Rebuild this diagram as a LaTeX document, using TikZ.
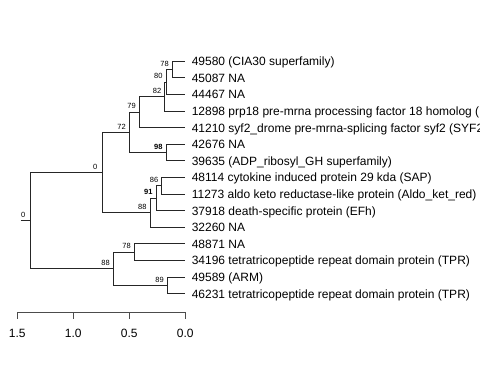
\documentclass[tikz,border=0pt]{standalone}
\usepackage{fontspec}
\setmainfont{Liberation Sans}
\begin{document}
\begin{tikzpicture}[x=1pt,y=-1pt,
  br/.style={draw=black!85,line width=0.9pt},
  leaf/.style={anchor=base west,inner sep=0pt,font=\fontsize{12}{14}\selectfont,xshift=6.3pt,yshift=-4.3pt},
  nl/.style={anchor=base east,inner sep=0pt,font=\fontsize{7.5}{9}\selectfont,xshift=-3.3pt,yshift=3.3pt},
  nlone/.style={nl,xshift=-1.8pt},
  ax/.style={draw=black!70,line width=0.9pt},
  axl/.style={anchor=base,inner sep=0pt,font=\fontsize{12}{14}\selectfont}]
\useasboundingbox (0,0) rectangle (480,384);
\clip (0,0) rectangle (480,384);
% leaf tips
\coordinate (L0) at (185.3,61.3);
\coordinate (L1) at (185.3,77.9);
\coordinate (L2) at (185.3,94.5);
\coordinate (L3) at (185.3,111.1);
\coordinate (L4) at (185.3,127.7);
\coordinate (L5) at (185.3,144.3);
\coordinate (L6) at (185.3,160.9);
\coordinate (L7) at (185.3,177.5);
\coordinate (L8) at (185.3,194.1);
\coordinate (L9) at (185.3,210.7);
\coordinate (L10) at (185.3,227.3);
\coordinate (L11) at (185.3,243.9);
\coordinate (L12) at (185.3,260.5);
\coordinate (L13) at (185.3,277.1);
\coordinate (L14) at (185.3,293.7);
% internal nodes
\coordinate (n78) at (172.3,69.6);
\coordinate (n80) at (166,82.05);
\coordinate (n82) at (164.7,96.6);
\coordinate (n79) at (139.3,112.15);
\coordinate (n98) at (166,152.6);
\coordinate (n72) at (129.3,132.4);
\coordinate (n86) at (161.7,185.8);
\coordinate (n91) at (156,198.25);
\coordinate (n88a) at (150,212.8);
\coordinate (n0) at (102.7,172.6);
\coordinate (n78b) at (134.3,252.2);
\coordinate (n89) at (167.3,285.4);
\coordinate (n88b) at (113.3,268.8);
\coordinate (root) at (30.7,220.7);
\coordinate (rootstub) at (20.7,220.7);
% branches
\draw[br] (n78) |- (L0);
\draw[br] (n78) |- (L1);
\draw[br] (n80) |- (n78);
\draw[br] (n80) |- (L2);
\draw[br] (n82) |- (n80);
\draw[br] (n82) |- (L3);
\draw[br] (n79) |- (n82);
\draw[br] (n79) |- (L4);
\draw[br] (n98) |- (L5);
\draw[br] (n98) |- (L6);
\draw[br] (n72) |- (n79);
\draw[br] (n72) |- (n98);
\draw[br] (n86) |- (L7);
\draw[br] (n86) |- (L8);
\draw[br] (n91) |- (n86);
\draw[br] (n91) |- (L9);
\draw[br] (n88a) |- (n91);
\draw[br] (n88a) |- (L10);
\draw[br] (n0) |- (n72);
\draw[br] (n0) |- (n88a);
\draw[br] (n78b) |- (L11);
\draw[br] (n78b) |- (L12);
\draw[br] (n89) |- (L13);
\draw[br] (n89) |- (L14);
\draw[br] (n88b) |- (n78b);
\draw[br] (n88b) |- (n89);
\draw[br] (root) |- (n0);
\draw[br] (root) |- (n88b);
\draw[br] (rootstub) -- (root);
% node labels
\node[nl] (b78) at (n78) {78};
\node[nl] (b80) at (n80) {80};
\node[nl] (b82) at (n82) {82};
\node[nl] (b79) at (n79) {79};
\node[nl,font=\fontsize{7.5}{9}\selectfont\bfseries] (b98) at (n98) {98};
\node[nl] (b72) at (n72) {72};
\node[nl] (b86) at (n86) {86};
\node[nl,font=\fontsize{7.5}{9}\selectfont\bfseries] (b91) at (n91) {91};
\node[nl] (b88a) at (n88a) {88};
\node[nlone] (b0) at (n0) {0};
\node[nl] (b78b) at (n78b) {78};
\node[nl] (b89) at (n89) {89};
\node[nl] (b88b) at (n88b) {88};
\node[nlone] (broot) at (root) {0};
% leaf labels
\node[leaf] (t0) at (L0) {49580 (CIA30 superfamily)};
\node[leaf] (t1) at (L1) {45087 NA};
\node[leaf] (t2) at (L2) {44467 NA};
\node[leaf] (t3) at (L3) {12898 prp18 pre-mrna processing factor 18 homolog (};
\node[leaf] (t4) at (L4) {41210 syf2\_drome pre-mrna-splicing factor syf2 (SYF2};
\node[leaf] (t5) at (L5) {42676 NA};
\node[leaf] (t6) at (L6) {39635 (ADP\_ribosyl\_GH superfamily)};
\node[leaf] (t7) at (L7) {48114 cytokine induced protein 29 kda (SAP)};
\node[leaf] (t8) at (L8) {11273 aldo keto reductase-like protein (Aldo\_ket\_red)};
\node[leaf] (t9) at (L9) {37918 death-specific protein (EFh)};
\node[leaf] (t10) at (L10) {32260 NA};
\node[leaf] (t11) at (L11) {48871 NA};
\node[leaf] (t12) at (L12) {34196 tetratricopeptide repeat domain protein (TPR)};
\node[leaf] (t13) at (L13) {49589 (ARM)};
\node[leaf] (t14) at (L14) {46231 tetratricopeptide repeat domain protein (TPR)};
% axis
\coordinate (a15) at (17.3,312.3);
\coordinate (a10) at (73.3,312.3);
\coordinate (a05) at (129.3,312.3);
\coordinate (a00) at (185.3,312.3);
\coordinate (k15) at (17.3,319);
\coordinate (k10) at (73.3,319);
\coordinate (k05) at (129.3,319);
\coordinate (k00) at (185.3,319);
\draw[ax] (a15) -- (a00);
\draw[ax] (a15) -- (k15);
\draw[ax] (a10) -- (k10);
\draw[ax] (a05) -- (k05);
\draw[ax] (a00) -- (k00);
\node[axl] (x15) at (17.3,337.3) {1.5};
\node[axl] (x10) at (73.3,337.3) {1.0};
\node[axl] (x05) at (129.3,337.3) {0.5};
\node[axl] (x00) at (185.3,337.3) {0.0};
\end{tikzpicture}
\end{document}
